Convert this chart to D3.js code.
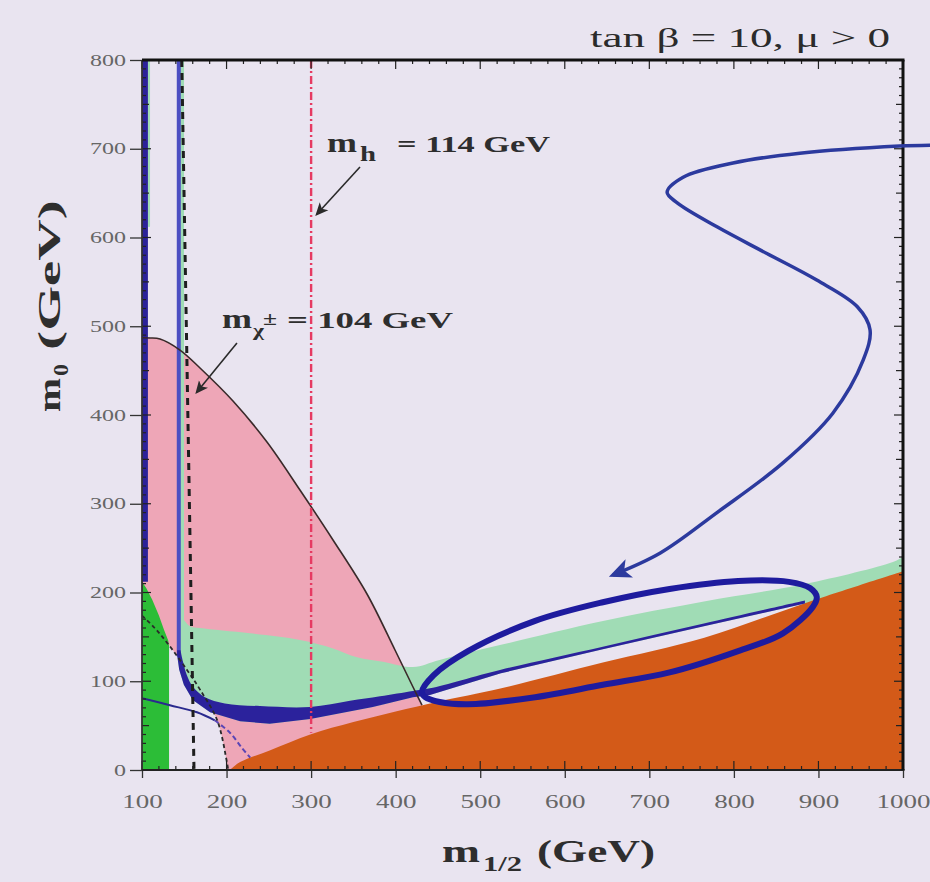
<!DOCTYPE html>
<html>
<head>
<meta charset="utf-8">
<script src="https://cdn.jsdelivr.net/npm/d3@7"></script>
<style>
  html, body { margin: 0; padding: 0; background: #e9e4f0; }
  svg { display: block; }
</style>
</head>
<body>
<svg id="chart" width="930" height="882"></svg>
<script>
// ---- axis ticks ----
const xTickValues = [100, 200, 300, 400, 500, 600, 700, 800, 900, 1000];
const yTickValues = [0, 100, 200, 300, 400, 500, 600, 700, 800];

// ---- CMSSM plane, tan(beta)=10, mu>0 : points are [m_1/2, m_0] in GeV ----
// charged (stau) LSP region, upper edge
const stauEdge = [[204,0],[216,9],[251,22],[299,40],[350,54],[400,66],[450,77],[525,92],[645,121],[765,149],[884,188],[1000,224]];
// b -> s gamma excluded region
const bsgEdge = [[100,0],[100,212],[105,205],[112,192],[120,174],[126,158],[131,146],[132,140],[132,0]];
// g-2 favoured region: outer and inner boundaries
const g2Outer = [[100,487],[109.5,486.8],[121.3,485.6],[144.9,473.2],[168.6,453],[207.6,415.8],[247.8,369.6],[286.8,315.5],[325.9,259.2],[366.1,198.3],[399.2,135.2],[420.5,93.5],[431.1,73.2]];
const g2Inner = [[100,174],[115,160],[130,143],[153,113],[169,90],[189,56],[200,11],[202,0]];
// relic density band 0.1 < Omega h^2 < 0.3
const relicTop = [[149.7,169],[156.8,162],[168.6,160],[227.7,154],[286.8,146.5],[325.9,137],[354.3,127],[385,122],[420.5,116],[452,124],[524.6,141],[645.2,168],[764.6,190],[884.1,209.6],[988.1,234.4],[1000,240]];
const relicRight = [[1000,215],[884,186]];
const relicLeftEdge = [[141.5,800],[149.7,800]];
const relicNearAxis = [[107,612],[109.5,612],[109.5,800],[107,800]];
// WMAP strip
const wmapUpper = [[145.5,135],[148.5,122],[153,107],[160,94],[174.5,82],[198,75],[239.5,72],[299,71],[346,78],[381.5,83],[420.5,89],[440.5,92],[524.5,113],[645,139],[764.5,165],[884,191]];
const wmapLower = [[141.5,135],[141.5,130],[144,113],[149.5,96],[160,79],[180.5,65],[216,55],[251,52],[299,57.5],[373,71],[420.5,82],[440.5,84.5],[524.5,109],[645,136],[764.5,162],[884,187.6]];
const wmapVertical = [[143.5,800],[143.5,128]];
const wmapLeftStrip = [[100,212],[107,212],[107,800],[100,800]];
// low-m0 Higgs-pole contour (solid, then dashed)
const poleSolid = [[100,81],[133,73],[165,65],[186,56]];
const poleDashed = [[186,56],[204,42],[218,25],[228,14]];
// LEP limits
const charginoLine = [[147,800],[161.5,0]];
const higgsLine = [[300,800],[300,42]];
// annotations
const higgsArrow = [[357.8,679.4],[307,626.5]];
const charginoArrow = [[212.3,481.1],[165,425.9]];
const coannEllipse = [[431,88],[445,107],[485.5,134],[565,168],[645,189],[724,204],[805,213],[865,212],[890,205],[898,195],[893.5,184],[858,154],[805,134],[724,110],[645,96],[565,82],[485.5,74],[452,76.6],[435,82]];
const bigArrow = [[1032,704],[996,703],[878,695],[799,684],[740,668],[721,651],[733,639],[780,612],[839,582],[898,552],[946,522],[961,496],[953,462],[917,402],[858,346],[780,290],[713,244.5],[657,219.7]];

// ---- drawing ----
const W = 930, H = 882;
const svg = d3.select("#chart");
const x = d3.scaleLinear().domain([100, 1000]).range([142, 903]);
const y = d3.scaleLinear().domain([0, 800]).range([770, 60]);

const line = d3.line().x(d => x(d[0])).y(d => y(d[1]));
const smooth = d3.line().x(d => x(d[0])).y(d => y(d[1])).curve(d3.curveCatmullRom.alpha(0.5));
const smoothClosed = d3.line().x(d => x(d[0])).y(d => y(d[1])).curve(d3.curveCatmullRomClosed.alpha(0.5));
// continue a path with straight segments
const cont = pts => line(pts).replace(/^M/, "L");

svg.append("rect").attr("width", W).attr("height", H).attr("fill", "#e9e4f0");

const defs = svg.append("defs");
defs.append("clipPath").attr("id", "plotClip").append("rect")
  .attr("x", x(100)).attr("y", y(800)).attr("width", x(1000) - x(100)).attr("height", y(0) - y(800));
function arrowMarker(id, color, size) {
  defs.append("marker").attr("id", id)
    .attr("viewBox", "0 0 10 10").attr("refX", 8).attr("refY", 5)
    .attr("markerWidth", size).attr("markerHeight", size)
    .attr("markerUnits", "userSpaceOnUse").attr("orient", "auto")
    .append("path").attr("d", "M0,0.5 L10,5 L0,9.5 L2.5,5 Z").attr("fill", color);
}
arrowMarker("headBlack", "#2a2a2a", 13);
arrowMarker("headBlue", "#2c3a9e", 22);

const regions = svg.append("g").attr("clip-path", "url(#plotClip)");

// g-2 region
const pinkPoly = g2Outer.concat([[436, 60], [436, 0]], g2Inner.slice().reverse());
regions.append("path").attr("d", smooth(pinkPoly) + "Z").attr("fill", "#eea6b7");

// relic density band
regions.append("path")
  .attr("d", line(relicLeftEdge) + cont([relicTop[0]]) + smooth(relicTop).replace(/^M/, "L") +
             cont(relicRight.concat(wmapLower.slice().reverse())) + "Z")
  .attr("fill", "#a0dcb5");
regions.append("path").attr("d", line(relicNearAxis) + "Z").attr("fill", "#a0dcb5");

// b -> s gamma
regions.append("path").attr("d", line(bsgEdge) + "Z").attr("fill", "#2cbd37");

// stau LSP
regions.append("path").attr("d", smooth(stauEdge) + cont([[1000, 0], stauEdge[0]]) + "Z").attr("fill", "#d35a18");

// WMAP strip
regions.append("path").attr("d", line(wmapLeftStrip) + "Z").attr("fill", "#2b2299");
regions.append("path").attr("d", line(wmapVertical)).attr("fill", "none")
  .attr("stroke", "#4c4ec2").attr("stroke-width", 4);
regions.append("path").attr("d", smooth(wmapUpper) + cont(wmapLower.slice().reverse()) + "Z")
  .attr("fill", "#2b229c");

// pole contour
regions.append("path").attr("d", smooth(poleSolid)).attr("fill", "none")
  .attr("stroke", "#2a2a8e").attr("stroke-width", 2);
regions.append("path").attr("d", smooth(poleDashed)).attr("fill", "none")
  .attr("stroke", "#5a45b5").attr("stroke-width", 2).attr("stroke-dasharray", "5,3");

// g-2 boundaries
regions.append("path").attr("d", smooth(g2Outer)).attr("fill", "none")
  .attr("stroke", "#3a2a2a").attr("stroke-width", 1.6);
regions.append("path").attr("d", smooth(g2Inner)).attr("fill", "none")
  .attr("stroke", "#2a2a2a").attr("stroke-width", 1.8).attr("stroke-dasharray", "4,3");

// LEP chargino and Higgs limits
regions.append("path").attr("d", line(charginoLine)).attr("fill", "none")
  .attr("stroke", "#1e1e1e").attr("stroke-width", 3).attr("stroke-dasharray", "7,6");
regions.append("path").attr("d", line(higgsLine)).attr("fill", "none")
  .attr("stroke", "#e63a62").attr("stroke-width", 2.4).attr("stroke-dasharray", "8,3,2,3");

// ---- axes ----
const axisFont = "'Liberation Serif', 'DejaVu Serif', serif";
const xAxis = svg.append("g").attr("transform", `translate(0,${y(0)})`)
  .call(d3.axisBottom(x).tickValues(xTickValues).tickSize(8).tickPadding(17).tickFormat(d3.format("d")));
const yAxis = svg.append("g").attr("transform", `translate(${x(100)},0)`)
  .call(d3.axisLeft(y).tickValues(yTickValues).tickSize(12).tickPadding(4).tickFormat(d3.format("d")));
[xAxis, yAxis].forEach(g => {
  g.select(".domain").remove();
  g.selectAll(".tick line").attr("stroke", "#333").attr("stroke-width", 1.3);
  g.selectAll("text").attr("font-family", axisFont).attr("fill", "#666")
    .attr("lengthAdjust", "spacingAndGlyphs");
});
xAxis.selectAll("text").attr("font-size", 19).attr("textLength", d => String(d).length * 13.5);
yAxis.selectAll("text").attr("font-size", 16).attr("textLength", d => String(d).length * 12);

// minor ticks inside the frame
const ticks = svg.append("g").attr("stroke", "#222").attr("stroke-width", 1.2);
d3.range(0, 801, 10).forEach(v => {
  const len = v % 100 === 0 ? 9 : (v % 50 === 0 ? 7 : 4);
  ticks.append("line").attr("x1", x(100)).attr("x2", x(100) + len).attr("y1", y(v)).attr("y2", y(v));
  ticks.append("line").attr("x1", x(1000)).attr("x2", x(1000) - len).attr("y1", y(v)).attr("y2", y(v));
});
d3.range(100, 1001, 20).forEach(v => {
  const len = v % 100 === 0 ? 9 : 4;
  ticks.append("line").attr("x1", x(v)).attr("x2", x(v)).attr("y1", y(0)).attr("y2", y(0) - len);
  ticks.append("line").attr("x1", x(v)).attr("x2", x(v)).attr("y1", y(800)).attr("y2", y(800) + len);
});

// frame
svg.append("line").attr("x1", x(100)).attr("x2", x(100)).attr("y1", y(800)).attr("y2", y(0))
  .attr("stroke", "#333").attr("stroke-width", 1.8);
svg.append("line").attr("x1", x(100)).attr("x2", x(1000) + 1.5).attr("y1", y(0)).attr("y2", y(0))
  .attr("stroke", "#222").attr("stroke-width", 2);
svg.append("line").attr("x1", x(100)).attr("x2", x(1000) + 1.5).attr("y1", y(800)).attr("y2", y(800))
  .attr("stroke", "#111").attr("stroke-width", 3);
svg.append("line").attr("x1", x(1000)).attr("x2", x(1000)).attr("y1", y(800)).attr("y2", y(0))
  .attr("stroke", "#111").attr("stroke-width", 3);

// ---- annotations ----
svg.append("path").attr("d", line(higgsArrow)).attr("stroke", "#2a2a2a").attr("stroke-width", 1.6)
  .attr("fill", "none").attr("marker-end", "url(#headBlack)");
svg.append("path").attr("d", line(charginoArrow)).attr("stroke", "#2a2a2a").attr("stroke-width", 1.6)
  .attr("fill", "none").attr("marker-end", "url(#headBlack)");

svg.append("path").attr("d", smoothClosed(coannEllipse)).attr("fill", "none")
  .attr("stroke", "#1e1b9e").attr("stroke-width", 6);
svg.append("path").attr("d", smooth(bigArrow)).attr("fill", "none")
  .attr("stroke", "#2c3a9e").attr("stroke-width", 3.5).attr("marker-end", "url(#headBlue)");

const labelFont = "'Liberation Serif', 'DejaVu Serif', serif";
function piece(txt, px, py, size, len, weight) {
  const t = svg.append("text").attr("x", px).attr("y", py)
    .attr("font-family", labelFont).attr("font-size", size)
    .attr("font-weight", weight || "bold").attr("fill", "#2e2e2e").text(txt);
  if (len) t.attr("textLength", len).attr("lengthAdjust", "spacingAndGlyphs");
  return t;
}
// m_h = 114 GeV
piece("m", 327, 152, 27, 30);
piece("h", 360, 161, 20, 16);
piece("= 114 GeV", 397, 152, 24, 153);
// m_chi+- = 104 GeV
piece("m", 222, 328, 27, 30);
piece("χ", 253, 336, 17, 11);
piece("±", 263, 325, 18, 14);
piece("= 104 GeV", 287, 328, 24, 166);

// title
svg.append("text").attr("x", 890).attr("y", 47).attr("text-anchor", "end")
  .attr("font-family", labelFont).attr("font-size", 28).attr("fill", "#2b2b2b")
  .attr("textLength", 300).attr("lengthAdjust", "spacingAndGlyphs")
  .text("tan β = 10,  μ > 0");

// axis titles
piece("m", 442, 862, 32, 38);
piece("1/2", 483, 871, 21, 39);
piece("(GeV)", 537, 862, 32, 118);

const yTitle = svg.append("g").attr("transform", "translate(60,412) rotate(-90)");
function ypiece(txt, px, py, size, len) {
  yTitle.append("text").attr("x", px).attr("y", py)
    .attr("font-family", labelFont).attr("font-size", size).attr("font-weight", "bold")
    .attr("fill", "#2e2e2e").attr("textLength", len).attr("lengthAdjust", "spacingAndGlyphs")
    .text(txt);
}
ypiece("m", 0, 0, 32, 34);
ypiece("0", 36, 8, 21, 12);
ypiece("(GeV)", 62, 0, 32, 150);
</script>
</body>
</html>
